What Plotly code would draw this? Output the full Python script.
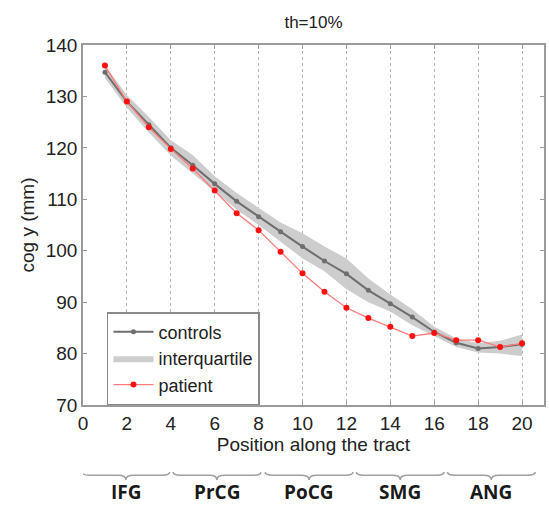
import plotly.graph_objects as go

# Position index along the tract
position = list(range(1, 21))

# Median centre-of-gravity (y) for the control group, mm
controls = [134.7, 129.0, 124.5, 120.0, 116.6, 113.0, 109.6, 106.6, 103.7, 100.8,
            98.0, 95.5, 92.3, 89.7, 87.1, 84.2, 82.1, 81.0, 81.3, 81.8]

# Interquartile range of the control group
iq_lower = [133.6, 127.8, 123.0, 118.5, 115.0, 111.5, 108.0, 105.0, 101.8, 98.5,
            96.0, 92.5, 90.0, 88.2, 85.5, 83.4, 81.3, 80.2, 80.0, 79.5]
iq_upper = [136.0, 130.3, 126.0, 121.5, 118.6, 114.5, 111.2, 108.3, 105.5, 103.4,
            100.8, 98.5, 94.6, 91.5, 88.6, 85.2, 83.0, 82.0, 82.5, 83.7]

# Patient values
patient = [136.0, 129.0, 124.0, 119.8, 116.0, 111.7, 107.3, 104.0, 99.8, 95.6,
           92.0, 88.9, 86.9, 85.2, 83.4, 84.0, 82.6, 82.6, 81.3, 82.0]

# Gyral regions traversed by the tract, with their span in position units
regions = ["IFG", "PrCG", "PoCG", "SMG", "ANG"]
region_start = [-0.05, 4.1, 8.3, 12.45, 16.6]
region_end = [3.95, 8.1, 12.3, 16.45, 20.6]

FONT = "Liberation Sans, Arial, Helvetica, sans-serif"
AXIS_GRAY = "#9a9a9a"

fig = go.Figure()

fig.add_trace(go.Scatter(
    x=position + position[::-1],
    y=iq_upper + iq_lower[::-1],
    fill="toself",
    fillcolor="#cdcdcd",
    line=dict(width=0),
    mode="lines",
    name="interquartile",
    legendrank=2,
    hoverinfo="skip",
))

fig.add_trace(go.Scatter(
    x=position, y=controls,
    mode="lines+markers",
    line=dict(color="#6e6e6e", width=2),
    marker=dict(color="#6e6e6e", size=5),
    name="controls",
    legendrank=1,
))

fig.add_trace(go.Scatter(
    x=position, y=patient,
    mode="lines+markers",
    line=dict(color="#ff7a7a", width=1.3),
    marker=dict(color="#ff1010", size=6),
    name="patient",
    legendrank=3,
))

# Curly braces under the axis marking each region
y_top, y_mid, y_tip = -0.186, -0.195, -0.208
d = 0.35
for x0, x1, label in zip(region_start, region_end, regions):
    xm = (x0 + x1) / 2
    path = (f"M {x0},{y_top} Q {x0},{y_mid} {x0 + d},{y_mid} "
            f"L {xm - d},{y_mid} Q {xm},{y_mid} {xm},{y_tip} "
            f"Q {xm},{y_mid} {xm + d},{y_mid} "
            f"L {x1 - d},{y_mid} Q {x1},{y_mid} {x1},{y_top}")
    fig.add_shape(type="path", path=path, xref="x", yref="paper",
                  line=dict(color="#a0a0a0", width=1.5))
    fig.add_annotation(x=xm, y=-0.243, xref="x", yref="paper",
                       text=f"<b>{label}</b>", showarrow=False,
                       font=dict(family="Open Sans, sans-serif", size=19, color="#1a1a1a"),
                       xanchor="center", yanchor="middle")

fig.update_layout(
    width=549, height=505,
    margin=dict(l=83, r=3, t=45, b=100),
    paper_bgcolor="white", plot_bgcolor="white",
    font=dict(family=FONT, size=19, color="#222222"),
    title=dict(text="th=10%", x=0.5, xref="paper", y=1 - 22 / 505, yref="container",
               xanchor="center", yanchor="middle", font=dict(size=17, family=FONT)),
    showlegend=True,
    legend=dict(x=0.052, y=0.258, xanchor="left", yanchor="top",
                bgcolor="white", bordercolor="#8a8a8a", borderwidth=1.5,
                font=dict(size=18, family=FONT), itemwidth=40,
                tracegroupgap=0),
)

fig.update_xaxes(
    range=[0, 21], tickmode="array", tickvals=list(range(0, 21, 2)),
    ticks="inside", ticklen=4, tickcolor=AXIS_GRAY,
    showline=True, linecolor=AXIS_GRAY, linewidth=1.5, mirror="ticks",
    showgrid=True, gridcolor="#b5b5b5", griddash="dot", gridwidth=1,
    zeroline=False,
    title=dict(text="Position along the tract", standoff=2, font=dict(size=19)),
    tickfont=dict(size=19),
)
fig.update_yaxes(
    range=[70, 140], tickmode="array", tickvals=list(range(70, 141, 10)),
    ticks="inside", ticklen=4, tickcolor=AXIS_GRAY,
    showline=True, linecolor=AXIS_GRAY, linewidth=1.5, mirror="ticks",
    showgrid=False, zeroline=False,
    title=dict(text="cog y (mm)", standoff=6, font=dict(size=19)),
    tickfont=dict(size=19),
)

fig.write_html("out.html")
